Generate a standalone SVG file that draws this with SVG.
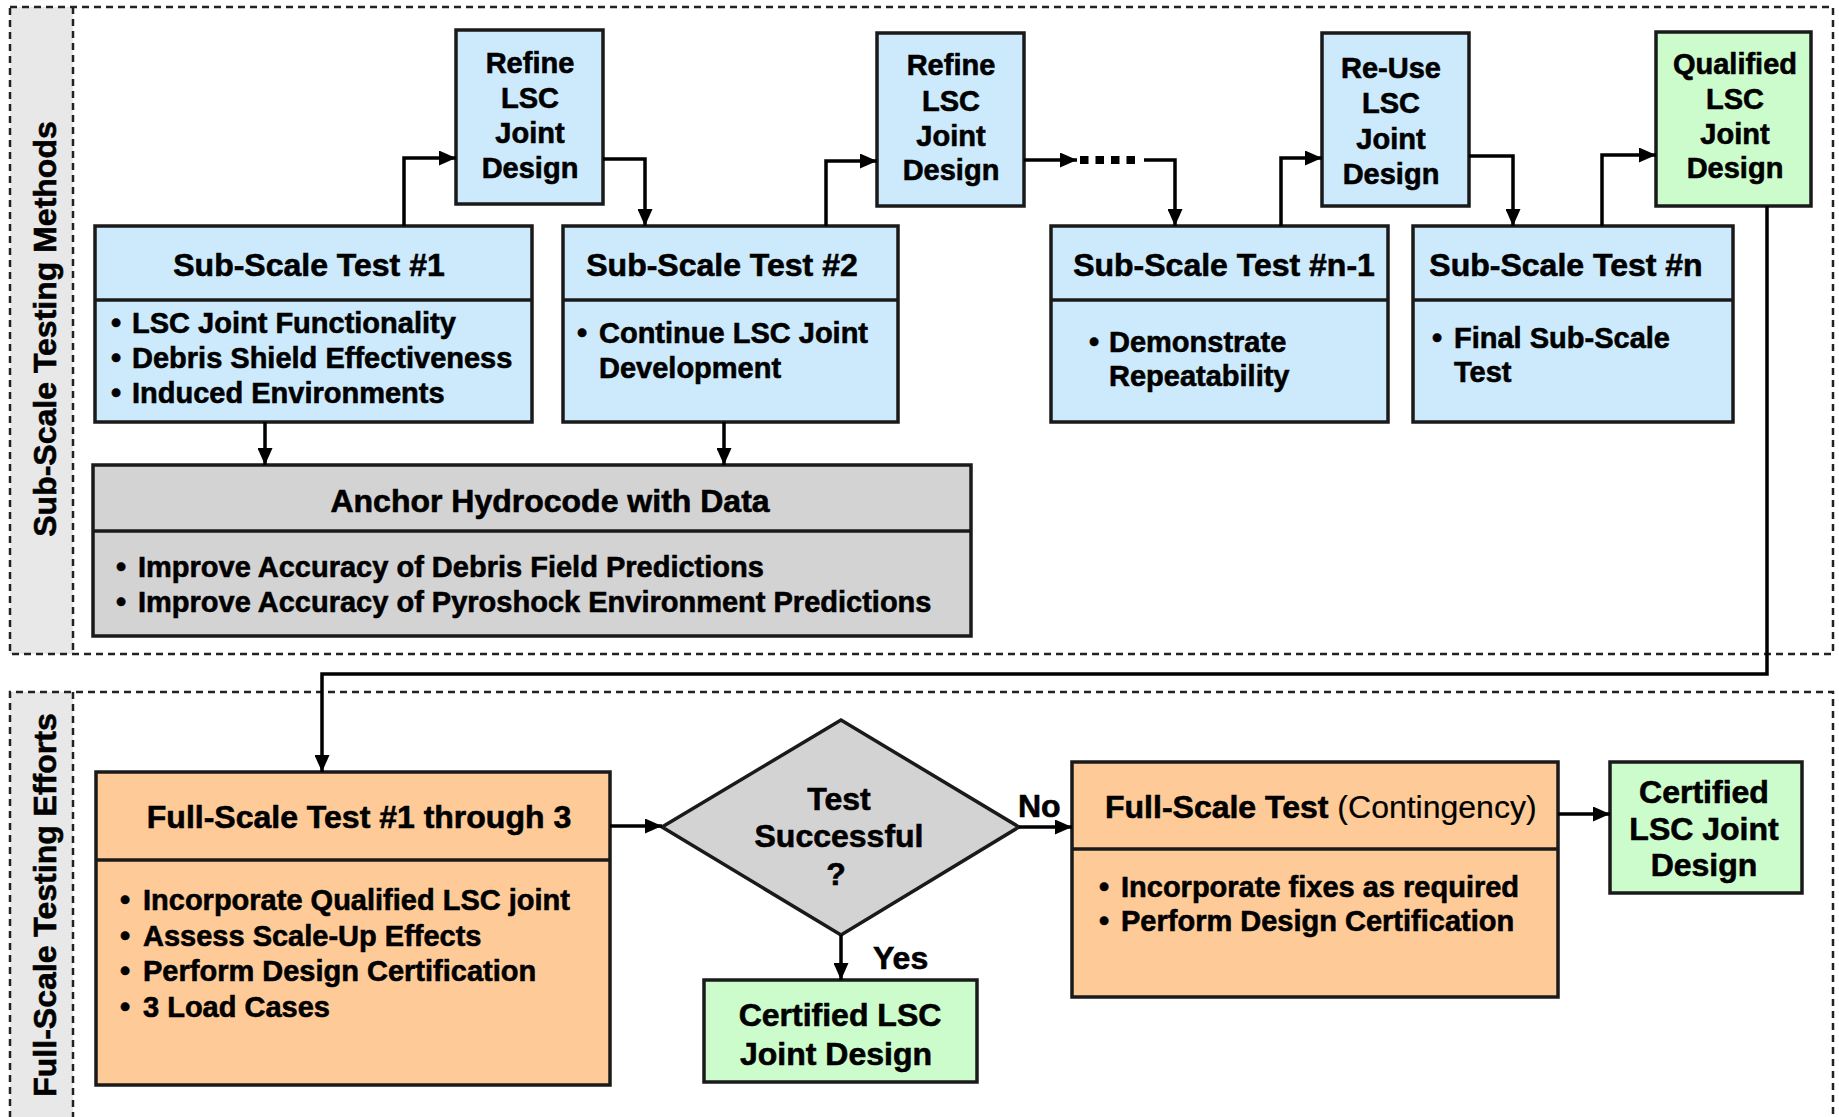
<svg xmlns="http://www.w3.org/2000/svg" width="1839" height="1117" viewBox="0 0 1839 1117">
<defs>
<style>
text{font-family:"Liberation Sans",Arial,sans-serif;font-weight:bold;fill:#000;stroke:#000;stroke-width:0.6}
.t{font-size:32px}
.s{font-size:29px}
.m{text-anchor:middle}
.band{fill:#e8e8e8;stroke:none}
.dash{fill:none;stroke:#222;stroke-width:2.5;stroke-dasharray:7 5}
.box{stroke:#1a1a1a;stroke-width:3.5}
.blue{fill:#cceafb}
.green{fill:#ccfccc}
.orange{fill:#fecb98}
.gray{fill:#d3d3d3}
.div{stroke:#1a1a1a;stroke-width:3.5}
.c{fill:none;stroke:#000;stroke-width:3.5}
.reg{font-weight:normal;stroke-width:0.2}
</style>
<marker id="ah" markerUnits="userSpaceOnUse" markerWidth="17" markerHeight="15" refX="17" refY="7.5" orient="auto">
<path d="M0,0 L17,7.5 L0,15 z" fill="#000"/>
</marker>
</defs>

<g id="frames">
<rect class="band" x="10" y="7" width="63" height="647"/>
<rect class="dash" x="10" y="7" width="1823" height="647"/>
<line class="dash" x1="73" y1="7" x2="73" y2="654"/>
<rect class="band" x="10" y="692" width="63" height="440"/>
<path class="dash" d="M10,1130 V692 H1833 V1130"/>
<line class="dash" x1="73" y1="692" x2="73" y2="1130"/>
<text class="t m" transform="translate(56,329) rotate(-90)">Sub-Scale Testing Methods</text>
<text class="t m" transform="translate(56,905) rotate(-90)">Full-Scale Testing Efforts</text>
</g>

<g id="refine1">
<rect class="box blue" x="456" y="30" width="147" height="174"/>
<text class="s m" x="530" y="73">Refine</text>
<text class="s m" x="530" y="108">LSC</text>
<text class="s m" x="530" y="143">Joint</text>
<text class="s m" x="530" y="178">Design</text>
</g>

<g id="refine2">
<rect class="box blue" x="877" y="33" width="147" height="173"/>
<text class="s m" x="951" y="75">Refine</text>
<text class="s m" x="951" y="111">LSC</text>
<text class="s m" x="951" y="146">Joint</text>
<text class="s m" x="951" y="180">Design</text>
</g>

<g id="reuse">
<rect class="box blue" x="1322" y="33" width="147" height="173"/>
<text class="s m" x="1391" y="78">Re-Use</text>
<text class="s m" x="1391" y="113">LSC</text>
<text class="s m" x="1391" y="149">Joint</text>
<text class="s m" x="1391" y="184">Design</text>
</g>

<g id="qualified">
<rect class="box green" x="1656" y="32" width="155" height="174"/>
<text class="s m" x="1735" y="74">Qualified</text>
<text class="s m" x="1735" y="109">LSC</text>
<text class="s m" x="1735" y="144">Joint</text>
<text class="s m" x="1735" y="178">Design</text>
</g>

<g id="test1">
<rect class="box blue" x="95" y="226" width="437" height="196"/>
<line class="div" x1="95" y1="300" x2="532" y2="300"/>
<text class="t m" x="309" y="276">Sub-Scale Test #1</text>
<text class="s"><tspan x="111" y="333">•</tspan><tspan x="132" y="333">LSC Joint Functionality</tspan></text>
<text class="s"><tspan x="111" y="368">•</tspan><tspan x="132" y="368">Debris Shield Effectiveness</tspan></text>
<text class="s"><tspan x="111" y="403">•</tspan><tspan x="132" y="403">Induced Environments</tspan></text>
</g>

<g id="test2">
<rect class="box blue" x="563" y="226" width="335" height="196"/>
<line class="div" x1="563" y1="300" x2="898" y2="300"/>
<text class="t m" x="722" y="276">Sub-Scale Test #2</text>
<text class="s"><tspan x="577" y="343">•</tspan><tspan x="599" y="343">Continue LSC Joint</tspan></text>
<text class="s" x="599" y="378">Development</text>
</g>

<g id="testn1">
<rect class="box blue" x="1051" y="226" width="337" height="196"/>
<line class="div" x1="1051" y1="300" x2="1388" y2="300"/>
<text class="t m" x="1224" y="276">Sub-Scale Test #n-1</text>
<text class="s"><tspan x="1089" y="352">•</tspan><tspan x="1109" y="352">Demonstrate</tspan></text>
<text class="s" x="1109" y="386">Repeatability</text>
</g>

<g id="testn">
<rect class="box blue" x="1413" y="226" width="320" height="196"/>
<line class="div" x1="1413" y1="300" x2="1733" y2="300"/>
<text class="t m" x="1566" y="276">Sub-Scale Test #n</text>
<text class="s"><tspan x="1432" y="348">•</tspan><tspan x="1454" y="348">Final Sub-Scale</tspan></text>
<text class="s" x="1454" y="382">Test</text>
</g>

<g id="anchor">
<rect class="box gray" x="93" y="465" width="878" height="171"/>
<line class="div" x1="93" y1="531" x2="971" y2="531"/>
<text class="t m" x="550" y="512">Anchor Hydrocode with Data</text>
<text class="s"><tspan x="116" y="577">•</tspan><tspan x="138" y="577">Improve Accuracy of Debris Field Predictions</tspan></text>
<text class="s"><tspan x="116" y="612">•</tspan><tspan x="138" y="612">Improve Accuracy of Pyroshock Environment Predictions</tspan></text>
</g>

<g id="fullscale1">
<rect class="box orange" x="96" y="772" width="514" height="313"/>
<line class="div" x1="96" y1="860" x2="610" y2="860"/>
<text class="t m" x="359" y="828">Full-Scale Test #1 through 3</text>
<text class="s"><tspan x="120" y="910">•</tspan><tspan x="143" y="910">Incorporate Qualified LSC joint</tspan></text>
<text class="s"><tspan x="120" y="946">•</tspan><tspan x="143" y="946">Assess Scale-Up Effects</tspan></text>
<text class="s"><tspan x="120" y="981">•</tspan><tspan x="143" y="981">Perform Design Certification</tspan></text>
<text class="s"><tspan x="120" y="1017">•</tspan><tspan x="143" y="1017">3 Load Cases</tspan></text>
</g>

<g id="decision">
<polygon class="box gray" points="662,827 841,720 1019,827 841,935"/>
<text class="t m" x="839" y="810">Test</text>
<text class="t m" x="839" y="847">Successful</text>
<text class="t m" x="836" y="885">?</text>
</g>

<g id="certified1">
<rect class="box green" x="704" y="980" width="273" height="102"/>
<text class="t m" x="840" y="1026">Certified LSC</text>
<text class="t m" x="836" y="1065">Joint Design</text>
</g>

<g id="contingency">
<rect class="box orange" x="1072" y="762" width="486" height="235"/>
<line class="div" x1="1072" y1="849" x2="1558" y2="849"/>
<text class="t" x="1105" y="818">Full-Scale Test <tspan class="reg">(Contingency)</tspan></text>
<text class="s"><tspan x="1099" y="897">•</tspan><tspan x="1121" y="897">Incorporate fixes as required</tspan></text>
<text class="s"><tspan x="1099" y="931">•</tspan><tspan x="1121" y="931">Perform Design Certification</tspan></text>
</g>

<g id="certified2">
<rect class="box green" x="1610" y="762" width="192" height="131"/>
<text class="t m" x="1704" y="803">Certified</text>
<text class="t m" x="1704" y="840">LSC Joint</text>
<text class="t m" x="1704" y="876">Design</text>
</g>

<g id="connectors">
<path class="c" d="M404,226 V158 H456" marker-end="url(#ah)"/>
<path class="c" d="M603,159 H645 V226" marker-end="url(#ah)"/>
<path class="c" d="M826,226 V161 H877" marker-end="url(#ah)"/>
<path class="c" d="M1024,160 H1077" marker-end="url(#ah)"/>
<line x1="1080" y1="160" x2="1136" y2="160" stroke="#000" stroke-width="8" stroke-dasharray="8.5 7"/>
<path class="c" d="M1144,160 H1175 V226" marker-end="url(#ah)"/>
<path class="c" d="M1281,226 V158 H1322" marker-end="url(#ah)"/>
<path class="c" d="M1469,156 H1513 V226" marker-end="url(#ah)"/>
<path class="c" d="M1602,226 V155 H1656" marker-end="url(#ah)"/>
<path class="c" d="M1767,206 V674 H322 V772" marker-end="url(#ah)"/>
<path class="c" d="M265,422 V465" marker-end="url(#ah)"/>
<path class="c" d="M724,422 V465" marker-end="url(#ah)"/>
<path class="c" d="M610,826 H662" marker-end="url(#ah)"/>
<path class="c" d="M1019,827 H1072" marker-end="url(#ah)"/>
<path class="c" d="M841,935 V980" marker-end="url(#ah)"/>
<path class="c" d="M1558,814 H1610" marker-end="url(#ah)"/>
<text class="t" x="1018" y="817">No</text>
<text class="t" x="873" y="969">Yes</text>
</g>
</svg>
